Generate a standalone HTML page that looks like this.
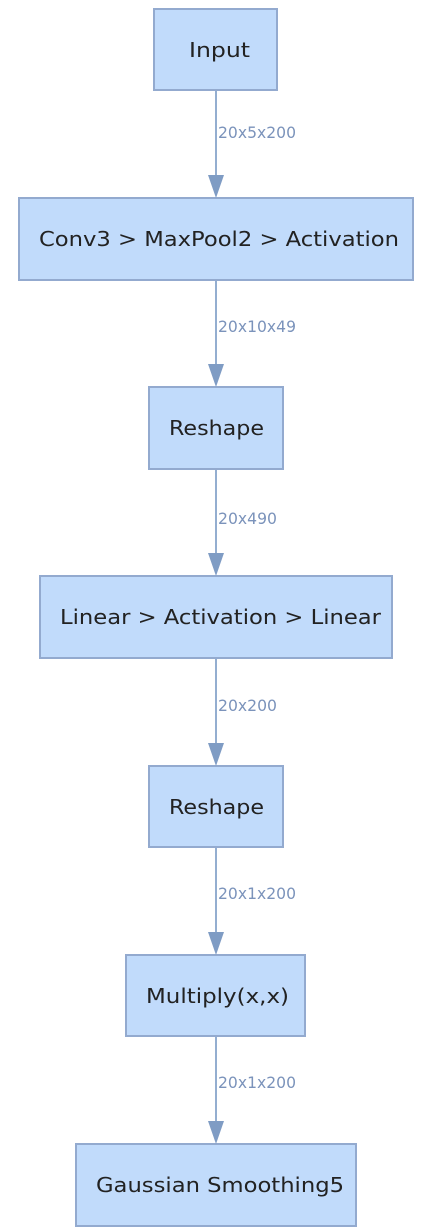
<!DOCTYPE html>
<html><head><style>
html,body{margin:0;padding:0;background:#fff;width:429px;height:1232px;overflow:hidden}
svg{display:block}
</style></head><body>
<svg width="429" height="1232" xmlns="http://www.w3.org/2000/svg" font-family="'DejaVu Sans', 'Liberation Sans', sans-serif">
<g fill="#c1dbfb" stroke="#93aacf" stroke-width="2">
<rect x="154" y="9" width="123" height="81"/>
<rect x="19" y="198" width="394" height="82"/>
<rect x="149" y="387" width="134" height="82"/>
<rect x="40" y="576" width="352" height="82"/>
<rect x="149" y="766" width="134" height="81"/>
<rect x="126" y="955" width="179" height="81"/>
<rect x="76" y="1144" width="280" height="82"/>
</g>
<g font-size="20" fill="#222">
<text x="189" y="57" textLength="61" lengthAdjust="spacingAndGlyphs">Input</text>
<text x="39" y="246" textLength="360" lengthAdjust="spacingAndGlyphs">Conv3 &gt; MaxPool2 &gt; Activation</text>
<text x="169" y="435" textLength="95" lengthAdjust="spacingAndGlyphs">Reshape</text>
<text x="60" y="624" textLength="321" lengthAdjust="spacingAndGlyphs">Linear &gt; Activation &gt; Linear</text>
<text x="169" y="814" textLength="95" lengthAdjust="spacingAndGlyphs">Reshape</text>
<text x="146" y="1003" textLength="143" lengthAdjust="spacingAndGlyphs">Multiply(x,x)</text>
<text x="96" y="1192" textLength="248" lengthAdjust="spacingAndGlyphs">Gaussian Smoothing5</text>
</g>
<g stroke="#94aed0" stroke-width="2">
<line x1="216" y1="91" x2="216" y2="180"/>
<line x1="216" y1="281" x2="216" y2="369"/>
<line x1="216" y1="470" x2="216" y2="558"/>
<line x1="216" y1="659" x2="216" y2="748"/>
<line x1="216" y1="848" x2="216" y2="937"/>
<line x1="216" y1="1037" x2="216" y2="1126"/>
</g>
<g fill="#7f9cc4">
<polygon points="208,175 224,175 216,198"/>
<polygon points="208,364 224,364 216,387"/>
<polygon points="208,553 224,553 216,576"/>
<polygon points="208,743 224,743 216,766"/>
<polygon points="208,932 224,932 216,955"/>
<polygon points="208,1121 224,1121 216,1144"/>
</g>
<g font-size="16" fill="#7b93bb">
<text x="218" y="138" textLength="78" lengthAdjust="spacingAndGlyphs">20x5x200</text>
<text x="218" y="332" textLength="78" lengthAdjust="spacingAndGlyphs">20x10x49</text>
<text x="218" y="524" textLength="59" lengthAdjust="spacingAndGlyphs">20x490</text>
<text x="218" y="711" textLength="59" lengthAdjust="spacingAndGlyphs">20x200</text>
<text x="218" y="899" textLength="78" lengthAdjust="spacingAndGlyphs">20x1x200</text>
<text x="218" y="1088" textLength="78" lengthAdjust="spacingAndGlyphs">20x1x200</text>
</g>
</svg>
</body></html>
